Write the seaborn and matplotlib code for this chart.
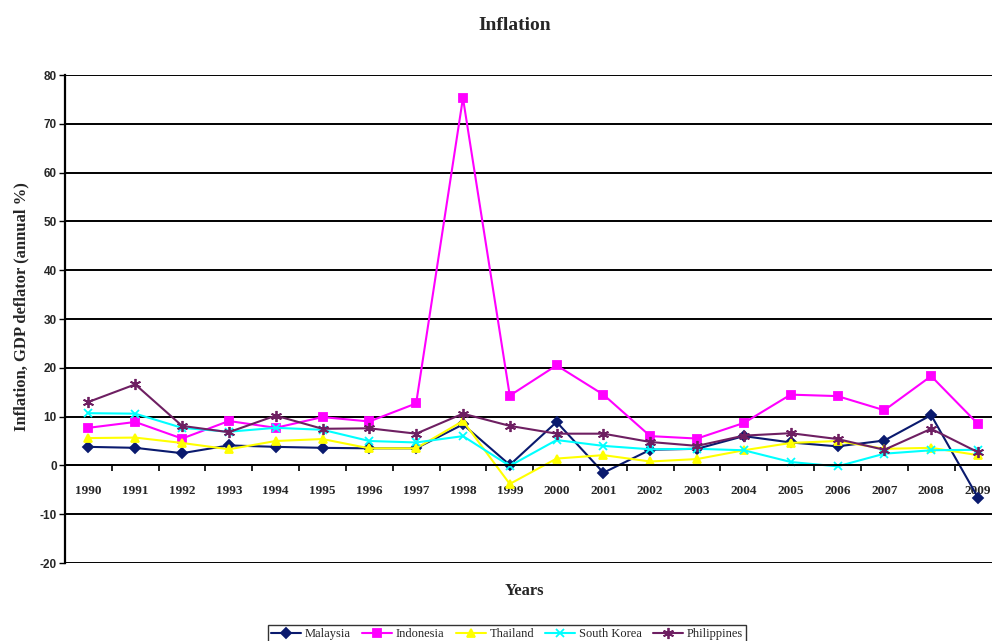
import numpy as np
import pandas as pd
import matplotlib
matplotlib.use("Agg")
import matplotlib.pyplot as plt
from matplotlib.ticker import MultipleLocator, FixedLocator
import seaborn as sns

# ==============================
# DATA
# ==============================

years = [str(y) for y in range(1990, 2010)]

malaysia = [3.8, 3.6, 2.5, 4.1, 3.8, 3.6, 3.5, 3.5, 8.4, 0.1,
            8.9, -1.5, 3.2, 3.4, 6.0, 4.7, 3.9, 5.1, 10.3, -6.6]
indonesia = [7.7, 8.9, 5.5, 9.1, 7.7, 9.9, 9.0, 12.7, 75.3, 14.3,
             20.5, 14.5, 6.0, 5.5, 8.7, 14.5, 14.2, 11.3, 18.3, 8.5]
thailand = [5.6, 5.7, 4.6, 3.3, 5.0, 5.4, 3.5, 3.5, 9.1, -3.8,
            1.4, 2.1, 0.8, 1.3, 3.1, 4.6, 5.0, 3.4, 3.6, 2.1]
south_korea = [10.7, 10.6, 7.7, 6.9, 7.7, 7.3, 5.0, 4.7, 6.0, -0.1,
               5.2, 4.0, 3.3, 3.4, 3.1, 0.7, -0.2, 2.4, 3.1, 3.2]
philippines = [13.0, 16.6, 8.1, 6.8, 10.2, 7.5, 7.6, 6.5, 10.6, 8.1,
               6.5, 6.5, 4.8, 4.0, 6.1, 6.6, 5.4, 3.2, 7.5, 2.7]

countries = ["Malaysia", "Indonesia", "Thailand", "South Korea", "Philippines"]
series = [malaysia, indonesia, thailand, south_korea, philippines]

colors = ["#0a1a6e", "#ff00ff", "#ffff00", "#00ffff", "#6e1f62"]
markers = ["D", "s", "^", "x", (6, 2, 0)]
msizes = [5, 6, 6, 6, 8]

# ==============================
# PLOT
# ==============================

sns.set_style("white")
plt.rcParams["font.family"] = ["Liberation Serif", "DejaVu Serif"]
plt.rcParams["axes.unicode_minus"] = False

fig = plt.figure(figsize=(9.92, 6.41), dpi=100)
ax = fig.add_axes([65 / 992, 1 - 563 / 641, 1 - 65 / 992, (563 - 75) / 641])

pos = np.arange(len(years))
for name, vals, c, m, ms in zip(countries, series, colors, markers, msizes):
    sns.lineplot(x=pos, y=vals, ax=ax, color=c, marker=m, markersize=ms,
                 markeredgecolor=c, markeredgewidth=1.3, linewidth=1.5,
                 label=name, legend=False)

ax.set_xlim(-0.5, 19.3)
ax.set_ylim(-20, 80)

# y axis
ax.yaxis.set_major_locator(MultipleLocator(10))
ax.yaxis.grid(True, color="black", linewidth=1.4)
ax.xaxis.grid(False)
ax.tick_params(axis="y", which="major", direction="out", length=4, width=1,
               color="black", left=True, labelsize=8.5, pad=2)
for lbl in ax.get_yticklabels():
    lbl.set_family(["Liberation Sans Narrow", "Liberation Sans"])
    lbl.set_fontweight("bold")

# x axis sits on the zero line, category labels between tick marks
ax.spines["bottom"].set_position(("data", 0))
ax.spines["bottom"].set_color("black")
ax.spines["bottom"].set_linewidth(1.4)
ax.set_xticks(pos)
ax.set_xticklabels(years, fontsize=9.5, fontweight="bold")
ax.xaxis.set_minor_locator(FixedLocator(pos[:-1] + 0.5))
ax.tick_params(axis="x", which="major", length=0, pad=14)
ax.tick_params(axis="x", which="minor", direction="out", length=4, width=1.2,
               color="black", bottom=True)

ax.spines["left"].set_color("black")
ax.spines["left"].set_linewidth(1.6)
ax.spines["top"].set_visible(False)
ax.spines["right"].set_visible(False)

ax.set_ylabel("Inflation, GDP deflator (annual %)", fontsize=12, fontweight="bold")
ax.yaxis.set_label_coords(-0.038, 0.525)
ax.set_xlabel("")

fig.text(515 / 992, 1 - 25 / 641, "Inflation", ha="center", va="center",
         fontsize=14, fontweight="bold")
fig.text(524 / 992, 1 - 591 / 641, "Years", ha="center", va="center",
         fontsize=12, fontweight="bold")

handles, labels = ax.get_legend_handles_labels()
leg = fig.legend(handles, labels, loc="center", ncol=5,
                 bbox_to_anchor=(507 / 992, 1 - 634 / 641),
                 frameon=True, fancybox=False, edgecolor="black",
                 fontsize=9, handlelength=2.4, handletextpad=0.3,
                 columnspacing=0.9, borderpad=0.25)
leg.get_frame().set_linewidth(1.0)

fig.savefig("out.png", dpi=100, facecolor="white")
